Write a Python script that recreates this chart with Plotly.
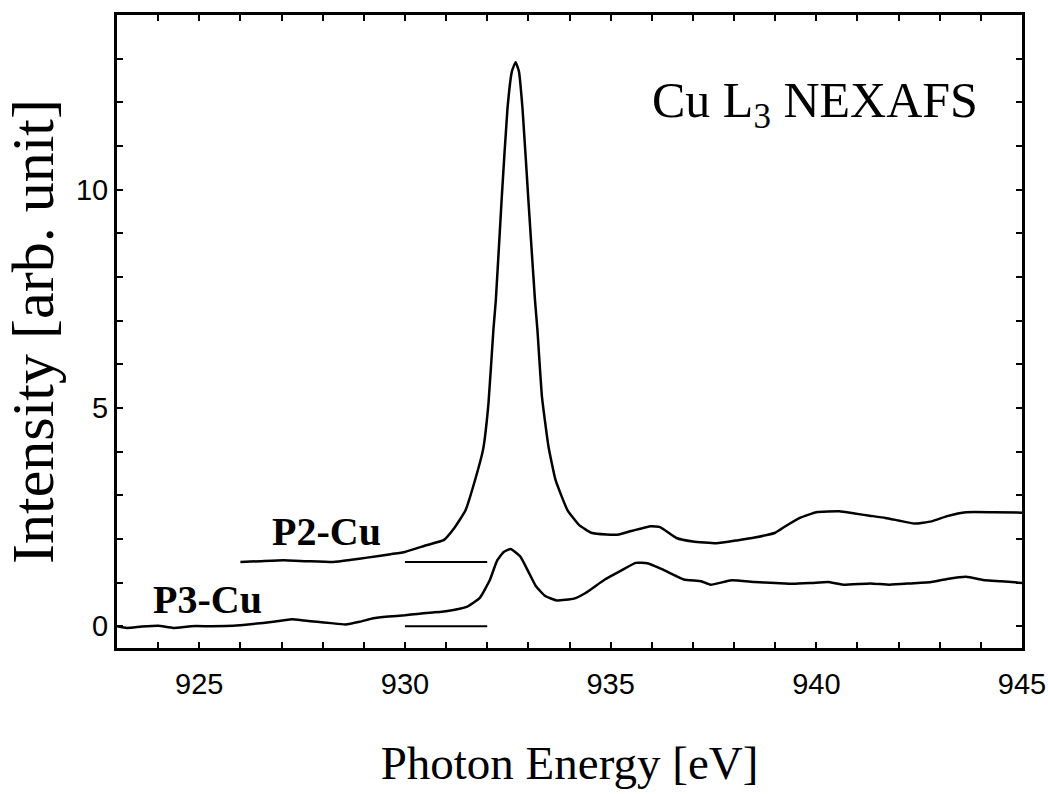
import plotly.graph_objects as go

# ---- data ----
p2_energy = [926.0, 926.5, 927.05, 927.6, 928.26, 928.7, 929.08, 929.65, 930.0, 930.54,
             930.94, 931.2, 931.47, 931.72, 931.9, 932.03, 932.15, 932.21, 932.35, 932.49,
             932.6, 932.69, 932.77, 932.86, 933.0, 933.16, 933.22, 933.33, 933.49, 933.66,
             933.95, 934.23, 934.53, 934.9, 935.2, 935.5, 935.98, 936.2, 936.6, 937.0,
             937.57, 938.1, 938.5, 939.0, 939.25, 939.6, 940.0, 940.56, 940.93, 941.3,
             941.68, 942.0, 942.38, 942.8, 943.18, 943.64, 944.3, 945.0]
p2_intensity = [1.47, 1.49, 1.51, 1.49, 1.47, 1.52, 1.57, 1.65, 1.70, 1.86,
                1.97, 2.25, 2.65, 3.40, 4.05, 5.10, 6.79, 7.48, 9.77, 11.83,
                12.71, 12.92, 12.71, 11.83, 9.77, 7.48, 6.79, 5.26, 4.11, 3.35,
                2.66, 2.32, 2.14, 2.10, 2.10, 2.18, 2.29, 2.27, 2.02, 1.94,
                1.90, 1.97, 2.03, 2.14, 2.29, 2.48, 2.61, 2.63, 2.58, 2.53,
                2.48, 2.42, 2.35, 2.40, 2.52, 2.61, 2.61, 2.60]

p3_energy = [923.0, 923.24, 923.6, 924.0, 924.37, 924.8, 925.3, 925.83, 926.3, 926.8,
             927.25, 927.55, 927.86, 928.2, 928.55, 928.9, 929.23, 929.6, 930.0, 930.3,
             930.6, 930.9, 931.18, 931.5, 931.82, 932.06, 932.24, 932.4, 932.57, 932.8,
             933.0, 933.18, 933.41, 933.69, 934.11, 934.39, 934.86, 935.23, 935.61, 935.89,
             936.26, 936.78, 937.2, 937.43, 937.94, 938.5, 939.0, 939.44, 939.9, 940.28,
             940.65, 941.31, 941.78, 942.3, 942.8, 943.18, 943.64, 944.11, 944.5, 945.0]
p3_intensity = [0.00, -0.04, -0.01, 0.01, -0.04, 0.00, 0.00, 0.01, 0.05, 0.10,
                0.16, 0.13, 0.10, 0.07, 0.04, 0.10, 0.18, 0.22, 0.25, 0.28,
                0.31, 0.33, 0.37, 0.44, 0.65, 1.05, 1.50, 1.70, 1.77, 1.60,
                1.25, 0.92, 0.69, 0.59, 0.63, 0.76, 1.07, 1.26, 1.45, 1.44,
                1.30, 1.07, 1.03, 0.95, 1.05, 1.01, 0.99, 0.97, 0.99, 1.01,
                0.95, 0.98, 0.95, 0.98, 1.01, 1.08, 1.13, 1.05, 1.03, 0.99]

# baseline markers (offset reference lines)
ref_energy = [930.0, 932.0]
p2_ref_level = [1.47, 1.47]
p3_ref_level = [0.0, 0.0]

x_major_ticks = [925, 930, 935, 940, 945]
y_major_ticks = [0, 5, 10]

serif = "Liberation Serif, Times New Roman, serif"
sans = "Liberation Sans, Arial, sans-serif"

fig = go.Figure()
line_style = dict(color="black", width=2.5, shape="spline", smoothing=0.4)
fig.add_trace(go.Scatter(x=p2_energy, y=p2_intensity, mode="lines", line=line_style,
                         name="P2-Cu", showlegend=False, hoverinfo="skip"))
fig.add_trace(go.Scatter(x=p3_energy, y=p3_intensity, mode="lines", line=line_style,
                         name="P3-Cu", showlegend=False, hoverinfo="skip"))
fig.add_trace(go.Scatter(x=ref_energy, y=p2_ref_level, mode="lines",
                         line=dict(color="black", width=2), showlegend=False,
                         hoverinfo="skip"))
fig.add_trace(go.Scatter(x=ref_energy, y=p3_ref_level, mode="lines",
                         line=dict(color="black", width=2), showlegend=False,
                         hoverinfo="skip"))

fig.add_annotation(x=928.1, y=2.18, text="<b>P2-Cu</b>", showarrow=False,
                   font=dict(family=serif, size=40, color="black"))
fig.add_annotation(x=925.2, y=0.6, text="<b>P3-Cu</b>", showarrow=False,
                   font=dict(family=serif, size=40, color="black"))
fig.add_annotation(x=935.95, y=11.95, xanchor="left", yanchor="middle",
                   text="Cu L<sub>3</sub> NEXAFS", showarrow=False,
                   font=dict(family=serif, size=50, color="black"))

minor_style = dict(ticks="inside", ticklen=6, tickwidth=2, tickcolor="black", dtick=1)
axis_common = dict(showline=True, linecolor="black", linewidth=3, mirror="ticks",
                   ticks="inside", ticklen=6, tickwidth=2, tickcolor="black",
                   showgrid=False, zeroline=False,
                   tickfont=dict(family=sans, size=29, color="black"))

fig.update_xaxes(range=[923, 945], tickmode="array", tickvals=x_major_ticks,
                 minor=dict(tick0=923, **minor_style), ticklabelstandoff=8,
                 title=dict(text="Photon Energy [eV]", standoff=48,
                            font=dict(family=serif, size=47, color="black")),
                 **axis_common)
fig.update_yaxes(range=[-0.5, 14], tickmode="array", tickvals=y_major_ticks,
                 minor=dict(tick0=0, **minor_style),
                 title=dict(text="Intensity [arb. unit]", standoff=22,
                            font=dict(family=serif, size=60, color="black")),
                 **axis_common)

fig.update_layout(width=1048, height=794, plot_bgcolor="white", paper_bgcolor="white",
                  margin=dict(l=117, r=26, t=15, b=146, autoexpand=False),
                  hovermode=False)

# remove the default page-body margin so the figure fills the window exactly
fig.write_html("out.html", config={"displayModeBar": False},
               post_script="document.body.style.margin='0px';")
